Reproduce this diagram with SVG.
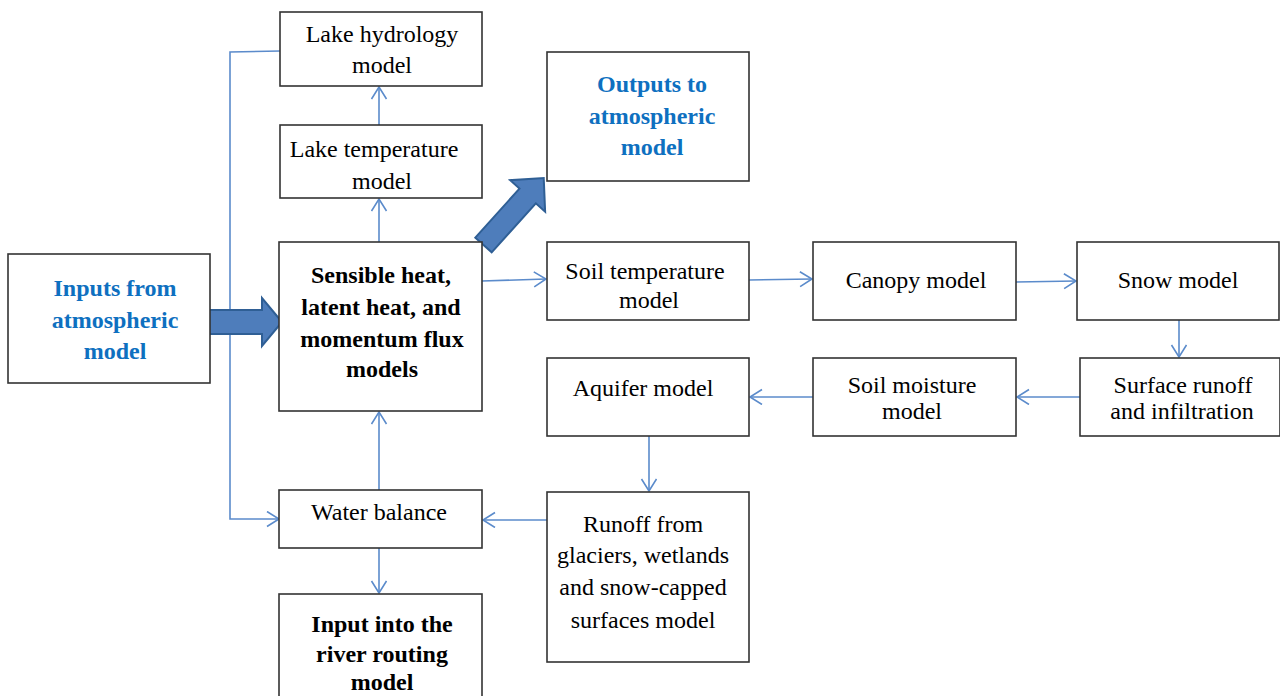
<svg xmlns="http://www.w3.org/2000/svg" width="1280" height="696" viewBox="0 0 1280 696">
<style>
.box{fill:#fff;stroke:#333;stroke-width:1.6}
.t{font-family:"Liberation Serif","Times New Roman",serif;font-size:24px;fill:#000;text-anchor:middle}
.b{font-weight:bold}
.blue{fill:#0e70c0}
.c{fill:none;stroke:#5b8bcb;stroke-width:1.6}
.big{fill:#4e7dbb;stroke:#2f5f95;stroke-width:2}
</style>
<defs>
<marker id="ah" markerUnits="userSpaceOnUse" markerWidth="16" markerHeight="18" refX="13" refY="8" orient="auto">
<path d="M1,0.5 L13,8 L1,15.5" fill="none" stroke="#5b8bcb" stroke-width="1.6"/>
</marker>
</defs>
<rect width="1280" height="696" fill="#fff"/>
<g id="connectors">
<path class="c" d="M280,51 L230,52 L230,519 L279,519" marker-end="url(#ah)"/>
<path class="c" d="M379,125 L379,87" marker-end="url(#ah)"/>
<path class="c" d="M379,242 L379,199" marker-end="url(#ah)"/>
<path class="c" d="M379,490 L379,412" marker-end="url(#ah)"/>
<path class="c" d="M379,548 L379,593" marker-end="url(#ah)"/>
<path class="c" d="M547,520 L483,520" marker-end="url(#ah)"/>
<path class="c" d="M649,436 L649,491" marker-end="url(#ah)"/>
<path class="c" d="M482,281 L546,279" marker-end="url(#ah)"/>
<path class="c" d="M749,280 L812,279" marker-end="url(#ah)"/>
<path class="c" d="M1016,282 L1076,281" marker-end="url(#ah)"/>
<path class="c" d="M1179,320 L1179,357" marker-end="url(#ah)"/>
<path class="c" d="M1080,397 L1017,397" marker-end="url(#ah)"/>
<path class="c" d="M813,397 L750,397" marker-end="url(#ah)"/>
<path class="big" d="M209,310 L262,310 L262,298 L282,322 L262,346 L262,334 L209,334 Z"/>
<path class="big" transform="translate(483.5,245) rotate(-48)" d="M0,-11 L66,-11 L66,-23.5 L90,0 L66,23.5 L66,11 L0,11 Z"/>
</g>
<g id="lake-hydrology">
<rect class="box" x="280" y="12" width="202" height="74"/>
<text class="t" x="382" y="42">Lake hydrology</text>
<text class="t" x="382" y="73">model</text>
</g>
<g id="lake-temperature">
<rect class="box" x="280" y="125" width="202" height="73"/>
<text class="t" x="374" y="157">Lake temperature</text>
<text class="t" x="382" y="189">model</text>
</g>
<g id="inputs">
<rect class="box" x="8" y="254" width="202" height="129"/>
<text class="t b blue" x="115" y="296">Inputs from</text>
<text class="t b blue" x="115" y="328">atmospheric</text>
<text class="t b blue" x="115" y="359">model</text>
</g>
<g id="fluxes">
<rect class="box" x="279" y="242" width="203" height="169"/>
<text class="t b" x="381" y="283">Sensible heat,</text>
<text class="t b" x="381" y="315">latent heat, and</text>
<text class="t b" x="382" y="347">momentum flux</text>
<text class="t b" x="382" y="377">models</text>
</g>
<g id="outputs">
<rect class="box" x="547" y="52" width="202" height="129"/>
<text class="t b blue" x="652" y="92">Outputs to</text>
<text class="t b blue" x="652" y="124">atmospheric</text>
<text class="t b blue" x="652" y="155">model</text>
</g>
<g id="soil-temperature">
<rect class="box" x="547" y="242" width="202" height="78"/>
<text class="t" x="645" y="279">Soil temperature</text>
<text class="t" x="649" y="308">model</text>
</g>
<g id="canopy">
<rect class="box" x="813" y="242" width="203" height="78"/>
<text class="t" x="916" y="288">Canopy model</text>
</g>
<g id="snow">
<rect class="box" x="1077" y="242" width="202" height="78"/>
<text class="t" x="1178" y="288">Snow model</text>
</g>
<g id="surface-runoff">
<rect class="box" x="1080" y="358" width="200" height="78"/>
<text class="t" x="1183" y="393">Surface runoff</text>
<text class="t" x="1182" y="419">and infiltration</text>
</g>
<g id="soil-moisture">
<rect class="box" x="813" y="358" width="203" height="78"/>
<text class="t" x="912" y="393">Soil moisture</text>
<text class="t" x="912" y="419">model</text>
</g>
<g id="aquifer">
<rect class="box" x="547" y="358" width="202" height="78"/>
<text class="t" x="643" y="396">Aquifer model</text>
</g>
<g id="runoff-glaciers">
<rect class="box" x="547" y="492" width="202" height="170"/>
<text class="t" x="643" y="532">Runoff from</text>
<text class="t" x="643" y="563">glaciers, wetlands</text>
<text class="t" x="643" y="595">and snow-capped</text>
<text class="t" x="643" y="628">surfaces model</text>
</g>
<g id="water-balance">
<rect class="box" x="279" y="490" width="203" height="58"/>
<text class="t" x="379" y="520">Water balance</text>
</g>
<g id="river-routing">
<rect class="box" x="279" y="594" width="203" height="110"/>
<text class="t b" x="382" y="632">Input into the</text>
<text class="t b" x="382" y="662">river routing</text>
<text class="t b" x="382" y="690">model</text>
</g>
</svg>
